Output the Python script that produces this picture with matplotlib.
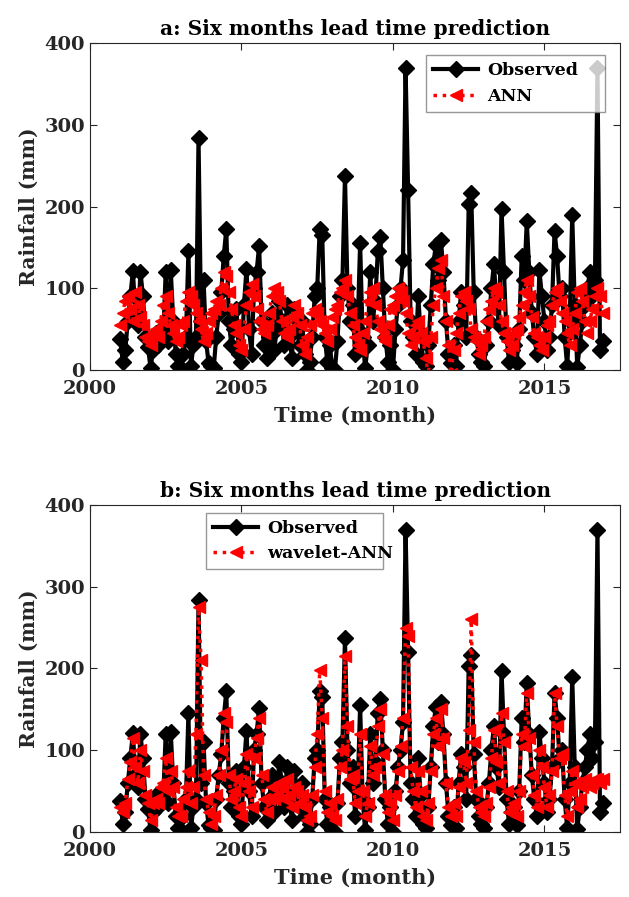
import numpy as np
import matplotlib
matplotlib.use('Agg')
import matplotlib.pyplot as plt

# monthly values, Jan 2001 .. Dec 2016
observed = [
    38, 10, 25, 60, 90, 121, 70, 55, 120, 90, 40, 28,
    2, 25, 45, 30, 50, 40, 120, 35, 122, 60, 20, 5,
    3, 20, 40, 145, 5, 30, 40, 284, 60, 110, 35, 8,
    5, 2, 40, 70, 95, 140, 172, 60, 30, 50, 75, 20,
    10, 80, 124, 50, 20, 100, 120, 152, 60, 30, 15, 40,
    70, 25, 50, 85, 60, 30, 80, 40, 15, 75, 50, 30,
    60, 20, 0, 10, 40, 90, 100, 172, 165, 40, 10, 30,
    2, 0, 35, 90, 110, 237, 100, 60, 80, 20, 50, 155,
    40, 2, 30, 120, 60, 85, 145, 163, 100, 40, 10, 30,
    0, 50, 80, 100, 135, 370, 220, 60, 40, 20, 90, 45,
    10, 5, 30, 80, 130, 153, 110, 159, 120, 60, 20, 8,
    30, 5, 60, 95, 80, 40, 203, 216, 95, 40, 20, 10,
    5, 30, 60, 100, 130, 80, 55, 197, 120, 40, 10, 25,
    30, 8, 50, 140, 110, 182, 120, 70, 40, 20, 122, 90,
    60, 25, 40, 80, 170, 140, 90, 100, 40, 5, 60, 190,
    80, 4, 30, 60, 80, 100, 120, 90, 110, 370, 25, 35,
]
ann = [
    55, 70, 85, 90, 75, 60, 95, 80, 65, 55, 40, 35,
    30, 45, 50, 40, 60, 80, 90, 70, 55, 45, 35, 40,
    55, 60, 85, 95, 90, 80, 70, 60, 50, 35, 45, 60,
    70, 75, 85, 80, 100, 120, 115, 95, 75, 55, 45, 30,
    25, 50, 80, 95, 105, 90, 75, 60, 50, 45, 55, 70,
    90, 100, 95, 85, 60, 45, 40, 50, 65, 80, 70, 55,
    30, 20, 40, 55, 70, 75, 70, 60, 55, 45, 35, 50,
    65, 75, 80, 95, 100, 110, 90, 70, 55, 40, 30, 25,
    45, 60, 85, 95, 100, 80, 60, 50, 40, 35, 55, 75,
    80, 90, 100, 95, 85, 70, 45, 30, 40, 55, 60, 45,
    35, 15, -8, 40, 80, 100, 125, 135, 90, 60, 30, -5,
    25, 45, 70, 90, 95, 85, 75, 50, 40, 35, 20, 30,
    40, 60, 75, 85, 100, 95, 80, 60, 45, 35, 25, 30,
    45, 50, 65, 80, 95, 110, 90, 65, 45, 40, 30, 25,
    40, 55, 60, 80, 95, 100, 85, 70, 60, 45, 30, 50,
    70, 95, 100, 85, 60, 45, 60, 75, 90, 100, 90, 70,
]
wavelet_ann = [
    30, 25, 35, 65, 85, 115, 80, 60, 100, 75, 45, 35,
    15, 35, 40, 35, 55, 60, 90, 50, 75, 55, 30, 20,
    20, 40, 55, 75, 35, 55, 120, 275, 210, 70, 40, 25,
    10, 20, 45, 70, 100, 145, 135, 70, 40, 50, 65, 30,
    20, 60, 95, 50, 30, 90, 115, 140, 70, 40, 25, 40,
    55, 40, 45, 60, 55, 40, 65, 45, 30, 55, 50, 35,
    45, 30, 15, 20, 45, 80, 120, 198, 140, 50, 25, 35,
    20, 15, 40, 80, 100, 215, 130, 65, 70, 35, 50, 120,
    50, 20, 35, 105, 70, 80, 130, 150, 95, 45, 25, 35,
    15, 45, 75, 105, 140, 250, 240, 80, 50, 30, 75, 50,
    20, 15, 35, 75, 120, 140, 105, 150, 115, 60, 30, 20,
    35, 20, 55, 90, 85, 60, 125, 260, 110, 50, 30, 25,
    20, 35, 55, 90, 125, 85, 60, 145, 110, 50, 25, 30,
    35, 20, 50, 120, 105, 170, 115, 70, 45, 30, 100, 80,
    55, 30, 45, 75, 170, 130, 90, 95, 45, 20, 50, 75,
    60, 30, 40, 55, 65, 60, 55, 60, 65, 65, 60, 65,
]
t = 2001 + np.arange(len(observed)) / 12.0

plt.rcParams['font.family'] = ['DejaVu Serif']
plt.rcParams['font.weight'] = 'bold'
txt = '#262626'

fig = plt.figure(figsize=(6.29, 8.97), dpi=100)
ax1 = fig.add_axes([0.143, 0.5875, 0.843, 0.3645])
ax2 = fig.add_axes([0.143, 0.0725, 0.843, 0.3645])

panels = [(ax1, ann, 'ANN', 'a: Six months lead time prediction',
           (0.634, 0.785, 0.338, 0.178)),
          (ax2, wavelet_ann, 'wavelet-ANN', 'b: Six months lead time prediction',
           (0.219, 0.808, 0.334, 0.168))]

for ax, pred, name, title, legbox in panels:
    ax.plot(t, observed, color='black', lw=3, marker='D', ms=8, label='Observed')
    ax.plot(t, pred, color='red', lw=2.5, ls=':', marker='<', ms=9, label=name)
    ax.set_xlim(2000, 2017.5)
    ax.set_ylim(0, 400)
    ax.set_xticks([2000, 2005, 2010, 2015])
    ax.set_yticks([0, 100, 200, 300, 400])
    ax.tick_params(direction='in', top=True, right=True, labelsize=14,
                   colors=txt, length=5)
    ax.tick_params(axis='x', pad=7)
    for lab in ax.get_xticklabels() + ax.get_yticklabels():
        lab.set_fontweight('bold')
    for s in ax.spines.values():
        s.set_color(txt)
    ax.set_title(title, fontsize=14.5, fontweight='bold', color='black', pad=6)
    ax.set_xlabel('Time (month)', fontsize=15, fontweight='bold', color=txt, labelpad=6)
    ax.set_ylabel('Rainfall (mm)', fontsize=14.5, fontweight='bold', color=txt)
    leg = ax.legend(fancybox=False, edgecolor='#7f7f7f', fontsize=12.5,
                    handlelength=2.6, handletextpad=0.5, borderaxespad=0,
                    loc='upper left', bbox_to_anchor=legbox, mode='expand')
    leg.get_frame().set_linewidth(1)
    for tx in leg.get_texts():
        tx.set_fontweight('bold')

fig.savefig('out.png', dpi=100)
